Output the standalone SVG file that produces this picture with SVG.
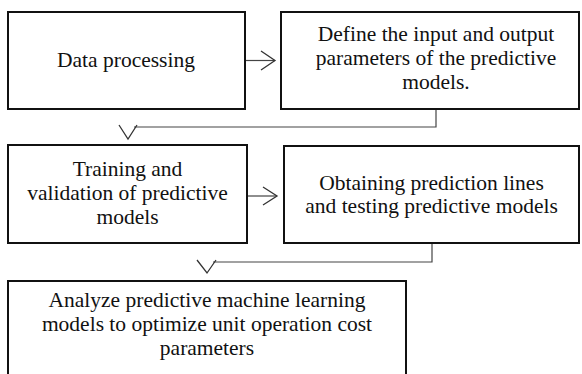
<svg xmlns="http://www.w3.org/2000/svg" width="582" height="374" viewBox="0 0 582 374">
<style>
.box{fill:#fff;stroke:#111;stroke-width:2}
.c{fill:none;stroke:#444;stroke-width:1.2}
.h{fill:none;stroke:#333;stroke-width:1.3;stroke-linejoin:miter}
.t{font-family:'Liberation Serif','Times New Roman',serif;font-size:21.5px;fill:#111;text-anchor:middle}
</style>
<rect width="582" height="374" fill="#fff"/>
<g id="connectors">
<line class="c" x1="245" y1="60.5" x2="275" y2="60.5"/>
<polyline class="h" points="261,51 275,60.5 261,70"/>
<line class="c" x1="247" y1="196" x2="277" y2="196"/>
<polyline class="h" points="263,187 277,196 263,205"/>
<polyline class="c" points="436,109 436,127 134,127"/>
<polyline class="h" points="119,125 128,139 137,125"/>
<polyline class="c" points="432,243 432,262 213,262"/>
<polyline class="h" points="197,260 207,273 216,260"/>
</g>
<g id="n1">
<rect class="box" x="8" y="12" width="237" height="97"/>
<text class="t" x="126" y="67">Data processing</text>
</g>
<g id="n2">
<rect class="box" x="281" y="12" width="298" height="97"/>
<text class="t" x="436" y="41.2">Define the input and output</text>
<text class="t" x="436" y="65">parameters of the predictive</text>
<text class="t" x="436" y="88.8">models.</text>
</g>
<g id="n3">
<rect class="box" x="8" y="145" width="239" height="98"/>
<text class="t" x="127.5" y="176.2">Training and</text>
<text class="t" x="127.5" y="200">validation of predictive</text>
<text class="t" x="127.5" y="223.8">models</text>
</g>
<g id="n4">
<rect class="box" x="284" y="146" width="295" height="97"/>
<text class="t" x="431.5" y="189.6">Obtaining prediction lines</text>
<text class="t" x="431.5" y="213.4">and testing predictive models</text>
</g>
<g id="n5">
<rect class="box" x="8" y="281" width="398" height="100"/>
<text class="t" x="207" y="307.2">Analyze predictive machine learning</text>
<text class="t" x="207" y="331">models to optimize unit operation cost</text>
<text class="t" x="207" y="354.8">parameters</text>
</g>
</svg>
